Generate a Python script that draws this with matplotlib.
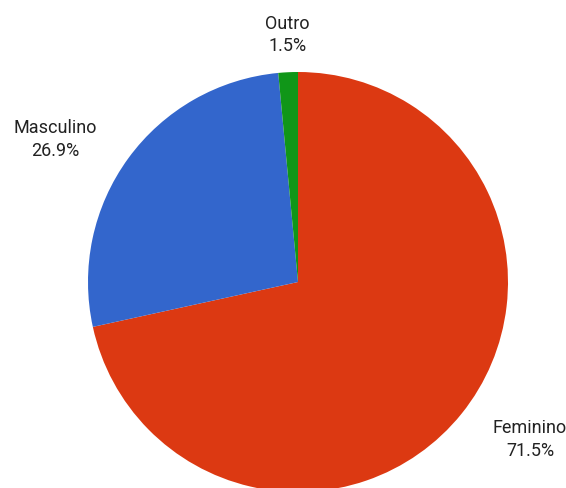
import matplotlib.pyplot as plt

plt.rcParams['font.family'] = ['Roboto', 'DejaVu Sans']

# data
labels = ["Feminino", "Masculino", "Outro"]
values = [71.5, 26.9, 1.5]
colors = ["#dc3912", "#3366cc", "#109618"]

# label positions (axes data coords, pie radius = 1)
label_pos = [(1.105, -0.745), (-1.157, 0.683), (-0.052, 1.181)]

fig = plt.figure(figsize=(5.66, 4.89), dpi=100)
ax = fig.add_axes([88 / 566, -4 / 489, 420 / 566, 420 / 489])
ax.pie(values, colors=colors, startangle=90, counterclock=False,
       radius=1, wedgeprops=dict(linewidth=0))
ax.set_xlim(-1, 1)
ax.set_ylim(-1, 1)
ax.set_aspect('equal')
ax.axis('off')

for lab, val, (x, y) in zip(labels, values, label_pos):
    ax.text(x, y, f"{lab}\n{val}%", ha='center', va='center',
            fontsize=13, color='#222222', linespacing=1.35, clip_on=False)

fig.savefig("out.png", dpi=100)
